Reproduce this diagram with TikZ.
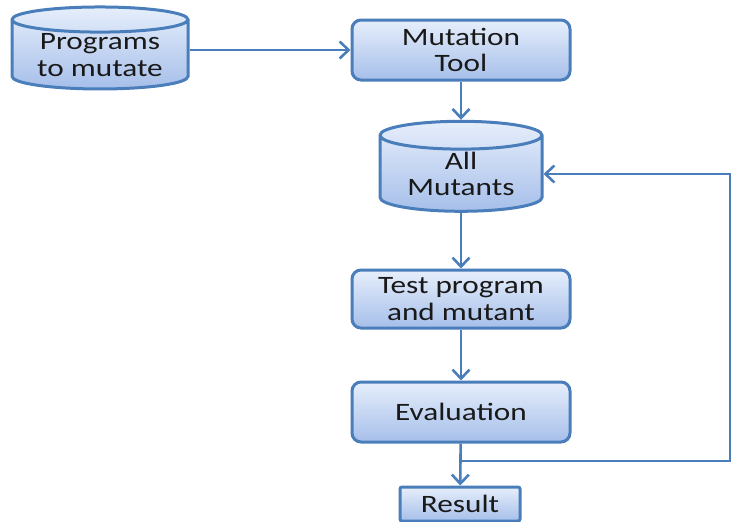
\documentclass[tikz,border=0pt]{standalone}
\usepackage{fontspec}
\setmainfont{Carlito}[FakeStretch=1.25]
\usepackage{tikz}
\usetikzlibrary{arrows.meta,shapes.geometric}
\definecolor{edgeblue}{HTML}{4A7EBB}
\definecolor{filltop}{HTML}{E6EEFB}
\definecolor{fillbot}{HTML}{A6BFEA}

\begin{document}
\begin{tikzpicture}[x=1pt,y=-1pt,>={Straight Barb[length=9pt,width=17pt]},
    every node/.style={font=\fontsize{25}{26.5}\selectfont,text=black!90,align=center},
    boxnode/.style={draw=edgeblue,line width=3pt,rounded corners=9pt,top color=filltop,bottom color=fillbot,inner sep=0pt},
    drum/.style={cylinder,shape border rotate=90,draw=edgeblue,line width=3pt,top color=filltop,bottom color=fillbot,inner sep=0pt},
    link/.style={draw=edgeblue,line width=2.6pt,->}]
            \useasboundingbox (0,0) rectangle (734,522);
            \node[drum,minimum width=176pt,minimum height=82pt,aspect=0.2] (prog) at (100,55) {Programs\\to mutate};
            \node[boxnode,minimum width=218pt,minimum height=60pt] (tool) at (461,50) {Mutation\\Tool};
            \node[drum,minimum width=162pt,minimum height=90pt,aspect=0.26] (mut) at (461,174) {All\\Mutants};
            \node[boxnode,minimum width=218pt,minimum height=58pt] (test) at (461,299) {Test program\\and mutant};
            \node[boxnode,minimum width=218pt,minimum height=60pt] (eval) at (461,412) {Evaluation};
            \node[boxnode,rounded corners=2pt,minimum width=120pt,minimum height=34pt] (res) at (460,504) {Result};
            \coordinate (split) at (461,461);
            \draw [link] (prog.east |- tool.west) -- (tool.west);
            \draw [link] (tool) -- (mut);
            \draw [link] (mut) -- (test);
            \draw [link] (test) -- (eval);
            \draw [link] (eval) -- (res);
            \draw [link] (split) -- ++(269,0) |- (mut.east);
        \end{tikzpicture}
\end{document}
